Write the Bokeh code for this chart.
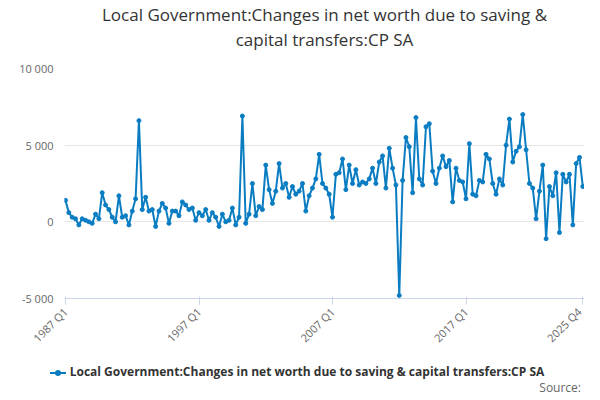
import math
from bokeh.plotting import figure
from bokeh.models import FixedTicker, Title, Div
from bokeh.layouts import column
from bokeh.embed import file_html
from bokeh.resources import INLINE

values = [1400, 600, 300, 200, -200, 200, 100, 0, -100, 500, 200, 1900, 1100, 800, 300,
          0, 1700, 300, 400, -200, 700, 1500, 6600, 800, 1600, 700, 800, -300, 700, 1200, 900,
          -100, 700, 700, 400, 1300, 1100, 800, 900, 100, 600, 400, 800, 100, 600, 300, -300,
          500, 0, 100, 900, -200, 300, 6900, -100, 500, 2500, 400, 1000, 800, 3700, 2100, 1200,
          2000, 3800, 2200, 2500, 1600, 2300, 1800, 2000, 2500, 700, 1700, 2200, 2800, 4400, 2500, 2200,
          1800, 300, 3100, 3200, 4100, 2100, 3700, 2500, 3400, 2400, 2600, 2500, 2800, 3500, 2500, 3900,
          4300, 2200, 4800, 3500, 2400, -4800, 2700, 5500, 4900, 1900, 6800, 2800, 2400, 6200, 6400, 3300,
          2500, 3500, 4300, 3600, 4000, 1300, 3500, 2700, 2600, 1500, 5100, 1800, 1700, 2700, 2600, 4400,
          4100, 2500, 1800, 2800, 2400, 5000, 6700, 3900, 4600, 4900, 7000, 4700, 2500, 2200, 200, 2000,
          3700, -1100, 2300, 1700, 3200, -700, 3100, 2600, 3100, -200, 3800, 4200, 2300]
n = len(values)
labels = [f"{1987 + i // 4} Q{i % 4 + 1}" for i in range(n)]
x = list(range(n))
tick_idx = [0, 40, 80, 120, n - 1]
series_name = "Local Government:Changes in net worth due to saving & capital transfers:CP SA"

p = figure(width=584, height=353, output_backend="svg", toolbar_location=None,
           x_range=(-0.3, n - 0.5), y_range=(-5000, 10000), min_border_left=64, min_border_right=0,
           min_border_top=5)
p.add_layout(Title(text=" ", text_font_size="14px", standoff=0), "above")
p.add_layout(Title(text="capital transfers:CP SA", align="center", text_font_size="17px",
                   text_font="Open Sans", text_font_style="normal", text_color="#333333",
                   standoff=0, offset=-23), "above")
p.add_layout(Title(text="Local Government:Changes in net worth due to saving &", align="center",
                   text_font_size="17px", text_font="Open Sans", text_font_style="normal",
                   text_color="#333333", standoff=0, offset=-23), "above")

p.line(x, values, line_color="#0a7dc2", line_width=2)
p.scatter(x, values, size=4, color="#0a7dc2")

p.xaxis.ticker = FixedTicker(ticks=tick_idx)
p.xaxis.major_label_overrides = {i: labels[i] for i in tick_idx}
p.xaxis.major_label_orientation = math.pi / 4
p.yaxis.ticker = FixedTicker(ticks=[-5000, 0, 5000, 10000])
p.yaxis.major_label_overrides = {-5000: "-5 000", 0: "0", 5000: "5 000", 10000: "10 000"}
for ax in (p.xaxis, p.yaxis):
    ax.major_label_text_font = "Open Sans"
    ax.major_label_text_font_size = "11px"
    ax.major_label_text_color = "#666666"
p.yaxis.axis_line_color = None
p.yaxis.major_tick_line_color = None
p.yaxis.minor_tick_line_color = None
p.xaxis.axis_line_color = "#ccd6eb"
p.xaxis.major_tick_line_color = "#ccd6eb"
p.xaxis.minor_tick_line_color = None
p.xgrid.grid_line_color = None
p.ygrid.grid_line_color = "#e6e6e6"
p.outline_line_color = None

legend = Div(width=584, height=37, text=(
    "<div style='font-family:\"Open Sans\";font-size:12px;line-height:16px;width:584px;padding-top:6px'>"
    "<div style='text-align:center;color:#333;font-weight:bold'>"
    "<span style='display:inline-block;position:relative;width:16px;height:2px;background:#0a7dc2;"
    "vertical-align:middle;margin-right:4px'><span style='position:absolute;left:5px;top:-2px;width:6px;"
    "height:6px;border-radius:3px;background:#0a7dc2'></span></span>"
    + series_name.replace("&", "&amp;") +
    "</div><div style='text-align:right;color:#666;padding-right:8px'>Source:</div></div>"))

open("out.html", "w").write(file_html(column(p, legend, spacing=0), INLINE))
